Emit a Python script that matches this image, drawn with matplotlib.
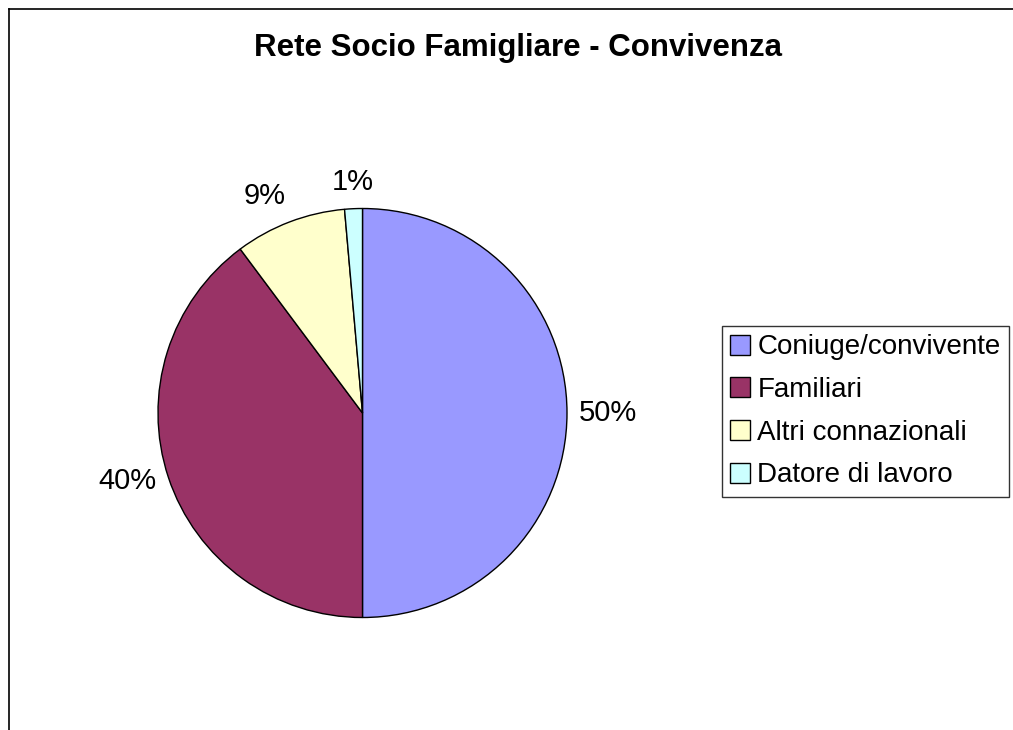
import matplotlib

matplotlib.use("Agg")
import matplotlib.pyplot as plt
import numpy as np
from matplotlib.lines import Line2D
from matplotlib.patches import Patch

plt.rcParams["font.family"] = ["Liberation Sans", "DejaVu Sans"]

# data (percent shares)
categories = ["Coniuge/convivente", "Familiari", "Altri connazionali", "Datore di lavoro"]
shares = [50.0, 39.8, 8.8, 1.4]
colors = ["#9999FF", "#993366", "#FFFFCC", "#CCFFFF"]
title = "Rete Socio Famigliare - Convivenza"

W, H = 1013, 730
fig = plt.figure(figsize=(W / 100, H / 100), dpi=100)

# outer chart frame (cut off on the right and bottom in the original)
fig.add_artist(Line2D([8.5 / W, 8.5 / W], [0, 1 - 8.5 / H], color="black", lw=1.2,
                      transform=fig.transFigure))
fig.add_artist(Line2D([8.5 / W, 1], [1 - 8.5 / H, 1 - 8.5 / H], color="black", lw=1.2,
                      transform=fig.transFigure))

# pie axes: centre (362.5, 413) px, radius 204.5 px
cx, cy, r = 362.5, 413, 204.5
half = 260
ax = fig.add_axes([(cx - half) / W, (H - cy - half) / H, 2 * half / W, 2 * half / H])
lim = half / r

wedges, texts, autotexts = ax.pie(
    shares,
    colors=colors,
    startangle=90,
    counterclock=False,
    radius=1,
    autopct="%.0f%%",
    wedgeprops={"edgecolor": "black", "linewidth": 1.0},
    textprops={"fontsize": 21, "color": "black"},
)
ax.set_xlim(-lim, lim)
ax.set_ylim(-lim, lim)
ax.set_aspect("equal")
ax.axis("off")

# Excel-style outside labels: anchored just beyond the rim, aligned away from it
for w, t in zip(wedges, autotexts):
    ang = np.deg2rad((w.theta1 + w.theta2) / 2)
    x, y = 1.06 * np.cos(ang), 1.06 * np.sin(ang)
    t.set_position((x, y))
    t.set_ha("center" if abs(x) < 0.15 else ("left" if x > 0 else "right"))
    t.set_va("center" if abs(y) < 0.5 else ("bottom" if y > 0 else "top"))

fig.text(517.5 / W, 1 - 48 / H, title, ha="center", va="center",
         fontsize=22.5, fontweight="bold")

handles = [Patch(facecolor=c, edgecolor="black", linewidth=1.0) for c in colors]
leg = fig.legend(
    handles,
    categories,
    loc="upper left",
    bbox_to_anchor=(722 / W, 1 - 326 / H),
    frameon=True,
    fancybox=False,
    fontsize=20,
    handlelength=0.72,
    handleheight=0.72,
    handletextpad=0.25,
    labelspacing=0.6,
    borderpad=0.3,
    borderaxespad=0,
)
leg.get_frame().set_edgecolor("black")
leg.get_frame().set_linewidth(1.0)

fig.savefig("out.png", dpi=100)
